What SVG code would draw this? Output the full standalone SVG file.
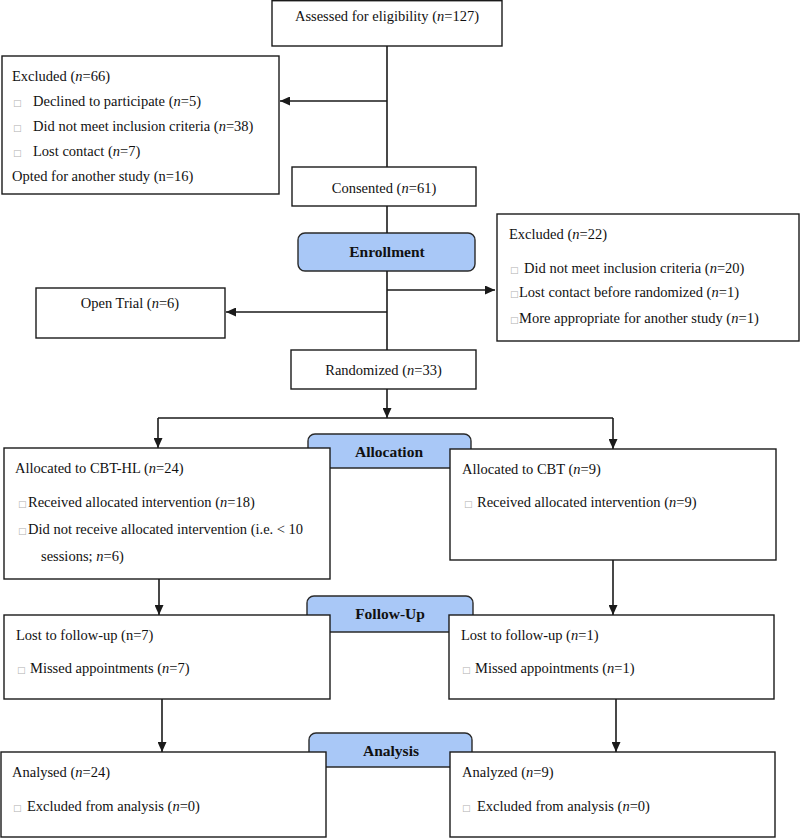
<svg xmlns="http://www.w3.org/2000/svg" width="800" height="838" viewBox="0 0 800 838">
<style>
text{font-family:"Liberation Serif","Times New Roman",serif;font-size:14.5px;fill:#111}
.box{fill:#fff;stroke:#1a1a1a;stroke-width:1.4}
.phase{fill:#a9c8f7;stroke:#2a2a2a;stroke-width:1.4}
.ph{font-weight:bold;font-size:15.5px;text-anchor:middle}
.mid{text-anchor:middle}
.i{font-style:italic}
.t{font-family:"DejaVu Sans",sans-serif;font-size:9px;fill:#b0b0b0}
.c{fill:none;stroke:#1a1a1a;stroke-width:1.6}
.a{marker-end:url(#ah)}
</style>
<defs>
<marker id="ah" markerUnits="userSpaceOnUse" markerWidth="11" markerHeight="9" refX="10" refY="4.5" orient="auto">
<path d="M0,0 L10,4.5 L0,9 z" fill="#1a1a1a"/>
</marker>
</defs>
<g id="phases">
<g id="enrollment"><rect class="phase" x="298" y="233" width="177" height="38" rx="7"/><text class="ph" x="387" y="257">Enrollment</text></g>
<g id="allocation"><rect class="phase" x="308" y="434" width="163" height="34" rx="7"/><text class="ph" x="389" y="457">Allocation</text></g>
<g id="followup"><rect class="phase" x="307" y="596" width="166" height="36" rx="7"/><text class="ph" x="390" y="619">Follow-Up</text></g>
<g id="analysis"><rect class="phase" x="309" y="733" width="163" height="34" rx="7"/><text class="ph" x="391" y="756">Analysis</text></g>
</g>
<g id="connectors">
<line class="c" x1="387" y1="46" x2="387" y2="167"/>
<line class="c a" x1="387" y1="101" x2="280" y2="101"/>
<line class="c" x1="387" y1="206" x2="387" y2="233"/>
<line class="c" x1="387" y1="271" x2="387" y2="350"/>
<line class="c a" x1="387" y1="290" x2="495" y2="290"/>
<line class="c a" x1="387" y1="312" x2="226" y2="312"/>
<line class="c a" x1="387" y1="389" x2="387" y2="418"/>
<line class="c" x1="158" y1="418" x2="613" y2="418"/>
<line class="c a" x1="158" y1="418" x2="158" y2="448"/>
<line class="c a" x1="613" y1="418" x2="613" y2="449"/>
<line class="c a" x1="159" y1="579" x2="159" y2="615"/>
<line class="c a" x1="613" y1="560" x2="613" y2="615"/>
<line class="c a" x1="162" y1="699" x2="162" y2="752"/>
<line class="c a" x1="616" y1="699" x2="616" y2="752"/>
</g>
<g id="assessed"><rect class="box" x="272" y="0.7" width="230" height="45.3"/><text class="mid" x="387" y="21">Assessed for eligibility (<tspan class="i">n</tspan>=127)</text></g>
<g id="excluded66"><rect class="box" x="2" y="56" width="277" height="138"/>
<text x="12" y="81">Excluded (<tspan class="i">n</tspan>=66)</text>
<text x="13" y="106"><tspan class="t">□</tspan><tspan x="33">Declined to participate (</tspan><tspan class="i">n</tspan>=5)</text>
<text x="13" y="131"><tspan class="t">□</tspan><tspan x="33">Did not meet inclusion criteria (</tspan><tspan class="i">n</tspan>=38)</text>
<text x="13" y="156"><tspan class="t">□</tspan><tspan x="33">Lost contact (</tspan><tspan class="i">n</tspan>=7)</text>
<text x="12" y="181">Opted for another study (n=16)</text>
</g>
<g id="consented"><rect class="box" x="292" y="167" width="184" height="39"/><text class="mid" x="384" y="193">Consented (<tspan class="i">n</tspan>=61)</text></g>
<g id="excluded22"><rect class="box" x="497" y="214" width="302" height="127"/>
<text x="509" y="239">Excluded (<tspan class="i">n</tspan>=22)</text>
<text x="510" y="273"><tspan class="t">□</tspan><tspan x="524">Did not meet inclusion criteria (</tspan><tspan class="i">n</tspan>=20)</text>
<text x="510" y="297"><tspan class="t">□</tspan><tspan x="519">Lost contact before randomized (</tspan><tspan class="i">n</tspan>=1)</text>
<text x="510" y="323"><tspan class="t">□</tspan><tspan x="519">More appropriate for another study (</tspan><tspan class="i">n</tspan>=1)</text>
</g>
<g id="opentrial"><rect class="box" x="36" y="288" width="189" height="50"/><text class="mid" x="130" y="308">Open Trial (<tspan class="i">n</tspan>=6)</text></g>
<g id="randomized"><rect class="box" x="291" y="350" width="185" height="39"/><text class="mid" x="383.5" y="375">Randomized (<tspan class="i">n</tspan>=33)</text></g>
<g id="cbthl"><rect class="box" x="4" y="448" width="326" height="131"/>
<text x="15" y="473">Allocated to CBT-HL (<tspan class="i">n</tspan>=24)</text>
<text x="18" y="507"><tspan class="t">□</tspan><tspan x="28">Received allocated intervention (</tspan><tspan class="i">n</tspan>=18)</text>
<text x="18" y="534"><tspan class="t">□</tspan><tspan x="28">Did not receive allocated intervention (i.e. &lt; 10</tspan></text>
<text x="41" y="561">sessions; <tspan class="i">n</tspan>=6)</text>
</g>
<g id="cbt"><rect class="box" x="450" y="449" width="326" height="111"/>
<text x="462" y="474">Allocated to CBT (<tspan class="i">n</tspan>=9)</text>
<text x="464" y="507"><tspan class="t">□</tspan><tspan x="477">Received allocated intervention (</tspan><tspan class="i">n</tspan>=9)</text>
</g>
<g id="lostleft"><rect class="box" x="4" y="615" width="326" height="84"/>
<text x="16" y="640">Lost to follow-up (n=7)</text>
<text x="17" y="673"><tspan class="t">□</tspan><tspan x="30">Missed appointments (</tspan><tspan class="i">n</tspan>=7)</text>
</g>
<g id="lostright"><rect class="box" x="449" y="615" width="325" height="84"/>
<text x="461" y="640">Lost to follow-up (<tspan class="i">n</tspan>=1)</text>
<text x="462" y="673"><tspan class="t">□</tspan><tspan x="475">Missed appointments (</tspan><tspan class="i">n</tspan>=1)</text>
</g>
<g id="analysedleft"><rect class="box" x="1" y="752" width="325" height="85"/>
<text x="12" y="777">Analysed (<tspan class="i">n</tspan>=24)</text>
<text x="13" y="811"><tspan class="t">□</tspan><tspan x="27">Excluded from analysis (</tspan><tspan class="i">n</tspan>=0)</text>
</g>
<g id="analysedright"><rect class="box" x="450" y="752" width="325" height="85"/>
<text x="462" y="777">Analyzed (<tspan class="i">n</tspan>=9)</text>
<text x="462" y="811"><tspan class="t">□</tspan><tspan x="477">Excluded from analysis (</tspan><tspan class="i">n</tspan>=0)</text>
</g>
</svg>
